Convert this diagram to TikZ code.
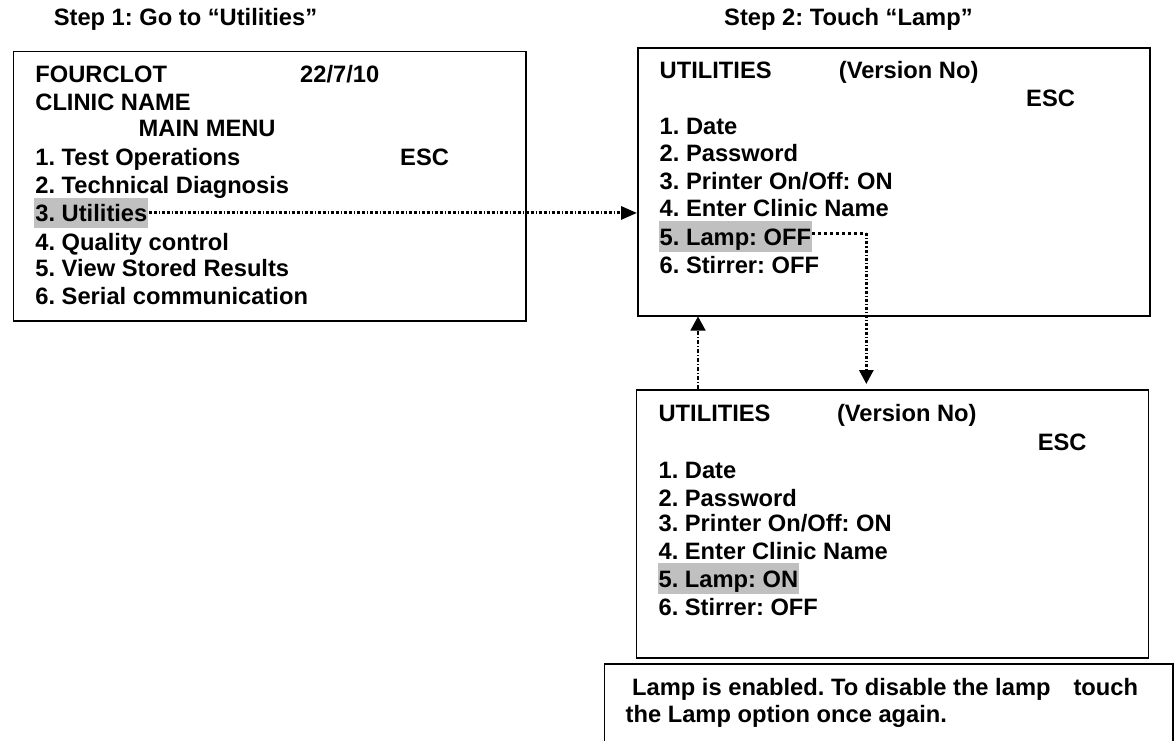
\documentclass[tikz,border=0pt]{standalone}
\usepackage{fontspec}
\setmainfont{Liberation Sans}
\usetikzlibrary{arrows.meta}
\definecolor{hlgray}{HTML}{C0C0C0}
\newcommand{\menufont}{\fontsize{23.7}{27.6}\selectfont\bfseries\frenchspacing}
\begin{document}
\begin{tikzpicture}[x=1pt,y=-1pt,
  txt/.style={anchor=base west, inner sep=0pt, font=\menufont},
  hilite/.style={txt, fill=hlgray, text height=24pt, text depth=6.5pt, inner xsep=1pt},
  screen/.style={draw=black, line width=1.5pt, anchor=north west, inner sep=0pt},
  arrA/.style={line width=3pt, dash pattern=on 3pt off 2pt on 3pt off 2pt on 1pt off 2pt,
     -{Triangle[length=16pt,width=13pt]}},
  arrB/.style={line width=3pt, dash pattern=on 3pt off 2pt on 1.2pt off 2pt,
     -{Triangle[length=14pt,width=14pt]}, shorten >=5pt},
  arrC/.style={line width=1.5pt, dash pattern=on 4pt off 2pt on 1pt off 2pt,
     -{Triangle[length=14pt,width=15pt]}},
  dots/.style={line width=3pt, dash pattern=on 3pt off 3pt}
]
\useasboundingbox (0,0) rectangle (1174,740);

% titles
\node[txt] (t1) at (53.6,25) {Step 1: Go to \textquotedblleft Utilities\textquotedblright};
\node[txt] (t2) at (724,25) {Step 2: Touch \textquotedblleft Lamp\textquotedblright};

% screen 1
\node[screen, minimum width=512.8pt, minimum height=269.3pt] (box1) at (12.6,50.7) {};
\node[txt] (b1a) at (35.2,82.7) {FOURCLOT};
\node[txt] (b1date) at (300,82.7) {22/7/10};
\node[txt] (b1b) at (35.2,110) {CLINIC NAME};
\node[txt] (b1c) at (138.5,136.7) {MAIN MENU};
\node[txt] (b1d) at (35.2,165.7) {1. Test Operations};
\node[txt] (b1esc) at (400,165.7) {ESC};
\node[txt] (b1e) at (35.2,193) {2. Technical Diagnosis};
\node[hilite] (util) at (34.2,221.7) {3. Utilities};
\node[txt] (b1g) at (35.2,250) {4. Quality control};
\node[txt] (b1h) at (35.2,276.7) {5. View Stored Results};
\node[txt] (b1i) at (35.2,304) {6. Serial communication};

% screen 2
\node[screen, minimum width=512pt, minimum height=268pt] (box2) at (637,47) {};
\node[txt] (b2a) at (659.5,78.3) {UTILITIES};
\node[txt] (b2v) at (838.7,78.3) {(Version No)};
\node[txt] (b2esc) at (1026,106.7) {ESC};
\node[txt] (b2b) at (659.5,134.3) {1. Date};
\node[txt] (b2c) at (659.5,161.7) {2. Password};
\node[txt] (b2d) at (659.5,189.3) {3. Printer On/Off: ON};
\node[txt] (b2e) at (659.5,216.7) {4. Enter Clinic Name};
\node[hilite] (lamp) at (658.5,245) {5. Lamp: OFF};
\node[txt] (b2g) at (659.5,273.3) {6. Stirrer: OFF};

% screen 3
\node[screen, minimum width=511.8pt, minimum height=268pt] (box3) at (635.7,389) {};
\node[txt] (b3a) at (658.4,421.7) {UTILITIES};
\node[txt] (b3v) at (836.8,421.7) {(Version No)};
\node[txt] (b3esc) at (1037.6,450) {ESC};
\node[txt] (b3b) at (658.4,478) {1. Date};
\node[txt] (b3c) at (658.4,506) {2. Password};
\node[txt] (b3d) at (658.4,531.7) {3. Printer On/Off: ON};
\node[txt] (b3e) at (658.4,559) {4. Enter Clinic Name};
\node[hilite] (lampon) at (657.4,587) {5. Lamp: ON};
\node[txt] (b3g) at (658.4,615) {6. Stirrer: OFF};

% note box
\node[screen, minimum width=568.5pt, minimum height=120pt] (box4) at (603.5,663) {};
\node[txt] (n1) at (632,695) {Lamp is enabled. To disable the lamp\hspace{23pt}touch};
\node[txt] (n2) at (625.5,722.7) {the Lamp option once again.};

% connectors
\draw[arrA] (util.east) -- (util.east -| box2.west);
\draw[dots] ([yshift=3pt]lamp.east) -- ++(54,0) coordinate (bend);
\draw[arrB] (bend) -- (bend |- box3.north);
\draw[arrC] ([xshift=62.3pt]box3.north west) -- ([xshift=62.3pt]box3.north west |- box2.south);
\end{tikzpicture}
\end{document}
